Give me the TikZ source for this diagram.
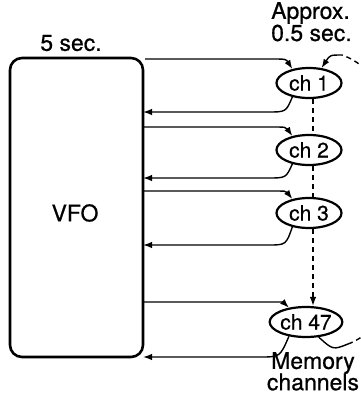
\documentclass[tikz,border=0pt]{standalone}
\usepackage{fontspec}
\setmainfont{TeX Gyre Heros}[FakeBold=0.6]
\usetikzlibrary{arrows.meta,shapes.geometric}
\begin{document}
\begin{tikzpicture}[x=1pt,y=-1pt,
  lbl/.style={font=\fontsize{23}{26}\selectfont, inner sep=0pt},
  chnode/.style={ellipse, draw, line width=2.2pt, minimum width=65pt, minimum height=30pt, inner sep=0pt, font=\fontsize{21}{24}\selectfont},
  conn/.style={line width=1.4pt, -{Latex[length=9pt,width=6.5pt]}},
  plain/.style={line width=1.4pt},
  dsh/.style={line width=1.4pt, dash pattern=on 5pt off 4pt},
  ]
\useasboundingbox (0,0) rectangle (360,400);
% VFO box
\node[draw, line width=2.6pt, rounded corners=12pt, minimum width=133pt, minimum height=299pt, inner sep=0pt] (vfo) at (76.5,207.5) {};
\node[lbl] (vfotxt) at (75,213) {VFO};
\node[lbl] (fivesec) at (71,43) {5 sec.};
\node[lbl, anchor=west] (approx) at (271,13) {Approx.};
\node[lbl, anchor=west] (halfsec) at (271,33) {0.5 sec.};
% channels
\node[chnode] (ch1) at (309,83) {ch 1};
\node[chnode] (ch2) at (309,150) {ch 2};
\node[chnode] (ch3) at (309,213) {ch 3};
\node[chnode] (ch47) at (306,322) {ch 47};
\node[lbl] (mem) at (313,363) {Memory};
\node[lbl] (chans) at (313,382) {channels};
% points on VFO right edge
\coordinate (o1) at (145,59);
\coordinate (o2) at (143,127);
\coordinate (o3) at (143,191);
\coordinate (o4) at (143,302);
\coordinate (r1) at (143,112);
\coordinate (r2) at (143,178);
\coordinate (r3) at (143,245);
\coordinate (r4) at (143,357);
% outgoing
\draw[conn] (o1) -- (270,59) .. controls (286,59) .. (ch1.140);
\draw[conn] (o2) -- (270,127) .. controls (286,127) .. (ch2.140);
\draw[conn] (o3) -- (270,191) .. controls (286,191) .. (ch3.140);
\draw[conn] (o4) -- (268,302) .. controls (283,302) .. (ch47.140);
% returns
\draw[conn] (ch1.220) .. controls (286,112) .. (268,112) -- (r1);
\draw[conn] (ch2.220) .. controls (286,178) .. (268,178) -- (r2);
\draw[conn] (ch3.220) .. controls (286,245) .. (268,245) -- (r3);
\draw[conn] (ch47.220) .. controls (280,357) .. (260,357) -- (r4);
% step through channels
\draw[dsh] (ch1.south -| 313,0) -- (ch2.north -| 313,0);
\draw[dsh] (ch2.south -| 313,0) -- (ch3.north -| 313,0);
\draw[dsh, -{Latex[length=9pt,width=6.5pt]}] (ch3.south -| 313,0) -- (ch47.north -| 313,0);
% wrap-around loop
\coordinate (lt) at (342,55);
\coordinate (lb) at (348,344);
\draw[plain] (ch47.-50) .. controls (333,350) .. (lb);
\draw[dsh] (lb) .. controls (430,315) and (430,85) .. (lt);
\draw[conn] (lt) .. controls (330,55) .. (ch1.50);
\end{tikzpicture}
\end{document}
